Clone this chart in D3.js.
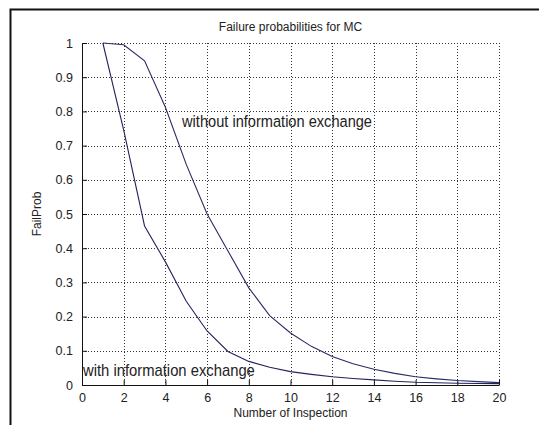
<!DOCTYPE html>
<html>
<head>
<meta charset="utf-8">
<script src="https://cdn.jsdelivr.net/npm/d3@7"></script>
<style>
  html, body { margin: 0; padding: 0; background: #fff; }
  svg { display: block; }
  text { font-family: "Liberation Sans", Arial, sans-serif; fill: #222; }
</style>
</head>
<body>
<svg id="chart" width="539" height="425"></svg>
<script>
const inspections = d3.range(1, 21);
const withExchange = [1.0, 0.745, 0.465, 0.36, 0.245, 0.158, 0.098, 0.069, 0.052, 0.039,
                      0.031, 0.024, 0.019, 0.015, 0.011, 0.008, 0.0065, 0.005, 0.0045, 0.004];
const withoutExchange = [1.0, 0.995, 0.948, 0.812, 0.645, 0.5, 0.392, 0.284, 0.203, 0.152,
                         0.113, 0.083, 0.062, 0.046, 0.034, 0.024, 0.018, 0.013, 0.01, 0.007];
const xTicks = d3.range(0, 21, 2);
const yTicks = d3.range(0, 11).map(i => i / 10);
const titleText = "Failure probabilities for MC";
const xLabel = "Number of Inspection";
const yLabel = "FailProb";
const labelWithout = "without information exchange";
const labelWith = "with information exchange";

const svg = d3.select("#chart");
const mLeft = 82, mRight = 499, mTop = 43, mBottom = 385;
const x = d3.scaleLinear().domain([0, 20]).range([mLeft, mRight]);
const y = d3.scaleLinear().domain([0, 1]).range([mBottom, mTop]);

// outer frame (partial, as in screenshot)
svg.append("path").attr("d", "M10.5,425 V9.5 H539")
  .attr("fill", "none").attr("stroke", "#111").attr("stroke-width", 2);

// grid
const grid = svg.append("g").attr("stroke", "#333").attr("stroke-width", 1)
  .attr("stroke-dasharray", "1,2").attr("shape-rendering", "crispEdges");
grid.selectAll("line.v").data(xTicks.filter(d => d > 0)).enter().append("line")
  .attr("x1", d => Math.round(x(d)) + 0.5).attr("x2", d => Math.round(x(d)) + 0.5)
  .attr("y1", y(1)).attr("y2", y(0));
grid.selectAll("line.h").data(yTicks.filter(d => d > 0)).enter().append("line")
  .attr("y1", d => Math.round(y(d)) + 0.5).attr("y2", d => Math.round(y(d)) + 0.5)
  .attr("x1", x(0)).attr("x2", x(20));

// axes
const xAxis = d3.axisBottom(x).tickValues(xTicks).tickSizeInner(-5).tickSizeOuter(0).tickPadding(9)
  .tickFormat(d3.format("d"));
const yAxis = d3.axisLeft(y).tickValues(yTicks).tickSizeInner(-5).tickSizeOuter(0).tickPadding(9)
  .tickFormat(d => d === 0 ? "0" : d === 1 ? "1" : d3.format(".1f")(d));

const gx = svg.append("g").attr("transform", `translate(0,${mBottom})`).call(xAxis);
const gy = svg.append("g").attr("transform", `translate(${mLeft},0)`).call(yAxis);
[gx, gy].forEach(g => {
  g.select(".domain").attr("stroke", "#111");
  g.selectAll(".tick line").attr("stroke", "#111");
  g.selectAll(".tick text").attr("font-size", 12.5).attr("font-family", "Liberation Sans, Arial, sans-serif").attr("fill", "#333");
});
gx.selectAll(".tick text").attr("dy", "0.71em").attr("y", 8);

// lines
const line = d3.line().x((d, i) => x(inspections[i])).y(d => y(d));
svg.append("path").datum(withExchange).attr("d", line)
  .attr("fill", "none").attr("stroke", "#23235e").attr("stroke-width", 1.1);
svg.append("path").datum(withoutExchange).attr("d", line)
  .attr("fill", "none").attr("stroke", "#2b2b66").attr("stroke-width", 1.1);

// texts
svg.append("text").attr("x", (mLeft + mRight) / 2).attr("y", 31).attr("text-anchor", "middle")
  .attr("font-size", 12).text(titleText);
svg.append("text").attr("x", (mLeft + mRight) / 2).attr("y", 417).attr("text-anchor", "middle")
  .attr("font-size", 12).text(xLabel);
svg.append("text").attr("transform", `translate(41,${(mTop + mBottom) / 2}) rotate(-90)`)
  .attr("text-anchor", "middle").attr("font-size", 12).text(yLabel);
svg.append("text").attr("transform", `translate(${x(4.8)},127) scale(1,1.12)`)
  .attr("font-size", 14.6).text(labelWithout);
svg.append("text").attr("transform", `translate(83,376) scale(1,1.12)`)
  .attr("font-size", 14.8).text(labelWith);
</script>
</body>
</html>
